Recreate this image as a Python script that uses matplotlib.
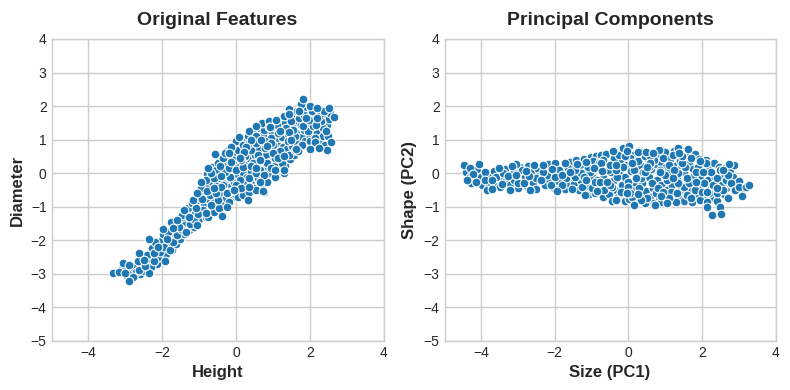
# abalone style scatter, original features vs principal components
import matplotlib
matplotlib.use("Agg")
import matplotlib.pyplot as plt

plt.style.use("seaborn-v0_8-whitegrid")
plt.rcParams['font.family'] = ['Liberation Sans', 'DejaVu Sans']

# (height, diameter) of the points mostly hidden under the others, left panel
original_hidden = [
    (-3.1, -2.85), (-2.95, -3.05), (-2.85, -2.9), (-2.72, -2.78), (-2.6, -3.0), (-2.5, -2.9), (-2.52, -2.45),
    (-2.42, -2.65), (-2.3, -2.55), (-2.28, -2.22), (-2.15, -2.7), (-2.14, -2.38), (-2.02, -2.5), (-2.03, -2.02),
    (-1.97, -1.82), (-1.9, -2.4), (-1.82, -2.12), (-1.78, -1.9), (-1.72, -2.3), (-1.68, -1.78), (-1.62, -2.1),
    (-1.58, -1.55), (-1.52, -1.95), (-1.46, -1.42), (-1.42, -1.8), (-1.38, -1.55), (-1.33, -1.2), (-1.27, -1.7),
    (-1.22, -1.02), (-1.2, -1.4), (-1.13, -1.6), (-1.1, -0.88), (-1.12, -1.2), (-1.0, -1.35), (-1.01, -0.68),
    (-0.98, -1.0), (-0.9, -0.35), (-0.88, -0.62), (-0.86, -0.9), (-0.82, -1.3), (-0.78, -0.02), (-0.75, -0.4),
    (-0.74, -0.8), (-0.7, -1.1), (-0.66, 0.2), (-0.64, -0.25), (-0.62, -0.55), (-0.6, -0.85), (-0.55, 0.1),
    (-0.52, -0.3), (-0.5, -0.6), (-0.48, -1.15), (-0.46, 0.42), (-0.42, -0.15), (-0.4, -0.62), (-0.37, -0.9),
    (-0.33, 0.3), (-0.3, -0.22), (-0.28, -0.75), (-0.22, 0.42), (-0.2, -0.1), (-0.18, -0.4), (-0.12, -0.72),
    (-0.1, 0.18), (-0.08, 0.62), (-0.04, -0.25), (-0.02, -0.62), (0.02, 0.85), (0.04, 0.28), (0.06, -0.05),
    (0.1, 0.55), (0.12, -0.45), (0.16, 0.95), (0.18, 0.02), (0.22, 0.32), (0.24, -0.55), (0.28, 0.68), (0.3, -0.12),
    (0.33, 1.1), (0.36, 0.45), (0.38, 0.18), (0.42, -0.32), (0.46, 0.85), (0.48, 1.28), (0.5, -0.45), (0.52, 0.55),
    (0.54, 0.2), (0.58, -0.1), (0.6, 1.0), (0.63, 0.72), (0.64, 1.35), (0.68, -0.4), (0.7, 0.38), (0.72, 0.12),
    (0.74, 1.15), (0.78, 1.42), (0.8, -0.2), (0.82, 0.55), (0.88, 0.9), (0.9, 0.02), (0.92, 0.32), (0.96, 1.25),
    (0.98, 1.55), (1.02, 0.7), (1.04, 0.22), (1.08, 1.02), (1.1, -0.02), (1.12, 1.32), (1.16, 0.8), (1.18, 1.58),
    (1.22, 0.38), (1.26, 1.08), (1.28, 0.78), (1.32, 1.5), (1.34, 0.22), (1.38, 0.72), (1.42, 1.18), (1.46, 0.42),
    (1.48, 1.68), (1.52, 0.8), (1.54, 1.42), (1.58, 0.55), (1.62, 1.75), (1.64, 1.2), (1.66, 0.9), (1.7, 1.52),
    (1.74, 0.78), (1.78, 1.08), (1.82, 1.88), (1.84, 1.3), (1.88, 0.95), (1.92, 1.7), (1.94, 1.42), (1.98, 0.85),
    (2.02, 1.12), (2.04, 1.95), (2.08, 1.6), (2.12, 1.28), (2.16, 0.85), (2.18, 1.78), (2.2, 1.2), (2.24, 1.48),
    (2.28, 0.95), (2.32, 1.88), (2.36, 1.12), (2.38, 1.68), (2.42, 0.85), (2.46, 1.45), (2.52, 1.62), (2.55, 1.78),
]

# (height, diameter)
original_points = [
    (-2.8, -2.8), (-2.7, -2.95), (-2.55, -2.7), (-2.4, -2.45), (-2.3, -2.8), (-2.1, -2.5), (-2.05, -2.35),
    (-1.95, -2.2), (-2.2, -2.05), (-1.8, -2.3), (-1.7, -2.05), (-1.85, -1.75), (-1.6, -1.85), (-1.5, -1.65),
    (-1.75, -1.45), (-1.55, -1.6), (-1.35, -1.75), (-1.25, -1.5), (-1.15, -1.35), (-1.45, -1.25), (-1.3, -1.05),
    (-1.2, -0.9), (-1.05, -0.8), (-0.9, -1.1), (-0.75, -1.3), (-0.6, -1.15), (-0.45, -1.05), (-0.5, -0.8),
    (-0.7, -0.65), (-0.95, -0.45), (-0.8, -0.2), (-0.6, -0.15), (-0.35, -0.35), (-0.2, -0.85), (0.05, -0.7),
    (0.2, -0.65), (0.35, -0.55), (0.55, -0.5), (0.75, -0.55), (0.3, -0.3), (0.1, -0.2), (-0.15, -0.1),
    (-0.3, 0.05), (-0.5, 0.3), (-0.35, 0.45), (-0.2, 0.15), (0.0, 0.1), (0.2, 0.2), (0.4, 0.05), (0.6, -0.15),
    (0.85, -0.25), (1.05, -0.1), (1.2, 0.1), (1.3, 0.0), (-0.1, 0.55), (0.05, 0.7), (0.25, 0.5), (0.45, 0.3),
    (0.65, 0.1), (0.85, 0.3), (1.05, 0.45), (1.25, 0.3), (1.45, 0.55), (1.6, 0.7), (0.0, 0.95), (0.2, 0.85),
    (0.4, 0.7), (0.6, 0.55), (0.8, 0.75), (1.0, 0.85), (1.2, 0.65), (1.4, 0.95), (1.6, 1.1), (1.8, 0.85),
    (2.0, 0.95), (0.35, 1.25), (0.55, 1.1), (0.75, 1.3), (0.95, 1.05), (1.15, 1.2), (1.35, 1.35), (1.55, 1.3),
    (1.75, 1.45), (1.95, 1.25), (2.15, 1.05), (2.35, 1.35), (2.5, 1.1), (0.7, 1.5), (0.9, 1.55), (1.1, 1.45),
    (1.3, 1.7), (1.5, 1.55), (1.7, 1.65), (1.9, 1.5), (2.1, 1.4), (2.3, 1.55), (2.45, 1.25), (1.45, 1.9),
    (1.65, 1.85), (1.85, 1.75), (2.05, 1.85), (2.25, 1.7), (2.4, 1.85), (1.75, 2.05), (2.0, 2.0), (2.2, 1.95),
    (-0.55, -0.6), (-0.4, -0.4), (-0.2, -0.55), (0.0, -0.35), (0.15, -0.45), (0.35, -0.15), (0.55, 0.0),
    (0.75, -0.05), (0.95, 0.15), (-0.25, 0.65), (-0.05, 0.4), (0.15, 0.4), (0.35, 0.9), (0.55, 0.9),
    (0.8, 0.95), (1.0, 0.6), (1.15, 0.45),
    (-3.32, -2.98), (-3.18, -2.93), (-3.07, -2.68), (-2.91, -2.73), (-3.0, -2.98), (-2.78, -3.10), (-2.91, -3.22),
    (-2.35, -2.96), (-2.62, -2.88), (-2.46, -2.76), (-2.66, -2.61), (-2.64, -2.38), (-2.23, -2.63), (-2.23, -2.38),
    (-2.48, -2.58), (-1.91, -2.61), (-2.12, -2.21), (-1.88, -1.95), (-2.36, -1.95), (-1.99, -1.66), (-1.71, -1.64),
    (-1.61, -1.39), (-1.28, -1.31), (-1.06, -1.54), (-1.40, -1.09), (-1.04, -1.22), (-0.68, -0.94), (-0.25, -1.01),
    (-0.38, -1.27), (-0.81, -1.19), (-1.08, -1.04), (-1.17, -0.79), (-0.92, -0.77), (-1.06, -0.58), (-0.79, -0.53),
    (-0.95, -0.25), (-0.59, -0.45), (-0.25, -0.58), (-0.05, -0.50), (-0.41, -0.08), (-0.68, 0.02), (-0.77, 0.17),
    (-0.43, 0.22), (-0.14, 0.33), (-0.29, 0.60), (-0.56, 0.58), (-0.14, 0.79), (0.09, 1.09), (0.41, 0.99),
    (0.27, 0.79), (0.68, 0.99), (0.95, 0.89), (0.54, 1.42), (0.90, 1.39), (1.43, 1.76), (1.72, 1.85), (1.83, 2.21),
    (2.51, 1.95), (2.65, 1.67), (2.48, 0.70), (2.57, 0.92), (2.14, 0.92), (1.67, 0.66), (1.29, 0.52),
    (1.31, 0.10), (1.07, 0.10), (0.72, -0.53), (0.32, -0.79), (0.36, -0.40), (0.65, -0.25), (0.41, 0.22),
    (0.65, 0.40), (0.23, 0.62), (0.92, 1.39), (1.08, 1.60), (1.44, 1.22), (1.81, 1.40), (1.97, 1.60), (2.18, 1.44),
    (2.21, 1.64), (1.89, 1.64), (1.62, 0.72), (0.55, 0.15), (0.12, 0.45), (-0.2, 0.60), (0.85, 0.80), (1.2, 1.25),
    (1.5, 1.0), (2.0, 0.72), (2.25, 0.75),
]

# (size, shape) of the points mostly hidden under the others, right panel
component_hidden = [
    (-4.42, 0.05), (-4.3, -0.12), (-4.28, -0.28), (-4.12, 0.12), (-4.0, -0.1), (-3.98, -0.34), (-3.8, 0.02),
    (-3.78, -0.35), (-3.65, 0.08), (-3.62, -0.3), (-3.5, -0.18), (-3.48, -0.42), (-3.35, 0.12), (-3.32, -0.22),
    (-3.22, -0.36), (-3.12, 0.05), (-3.1, -0.2), (-3.0, -0.45), (-2.95, 0.18), (-2.82, -0.12), (-2.75, -0.38),
    (-2.72, 0.22), (-2.62, 0.05), (-2.6, -0.3), (-2.52, -0.46), (-2.45, 0.12), (-2.42, -0.08), (-2.28, -0.35),
    (-2.25, 0.12), (-2.18, 0.28), (-2.15, -0.18), (-2.02, -0.45), (-2.0, 0.3), (-1.92, -0.22), (-1.88, -0.02),
    (-1.75, 0.12), (-1.72, -0.48), (-1.68, -0.28), (-1.6, 0.32), (-1.52, -0.12), (-1.48, -0.32), (-1.42, 0.4),
    (-1.35, -0.5), (-1.32, 0.22), (-1.28, -0.22), (-1.22, 0.42), (-1.18, 0.05), (-1.12, -0.42), (-1.08, -0.62),
    (-1.02, 0.48), (-0.98, -0.12), (-0.96, 0.15), (-0.9, -0.6), (-0.88, 0.5), (-0.82, -0.38), (-0.78, 0.12),
    (-0.75, 0.55), (-0.7, -0.12), (-0.68, -0.7), (-0.62, 0.58), (-0.6, -0.38), (-0.55, 0.28), (-0.52, -0.62),
    (-0.48, 0.05), (-0.45, -0.82), (-0.42, -0.22), (-0.38, 0.58), (-0.36, 0.32), (-0.3, -0.52), (-0.28, -0.72),
    (-0.26, 0.05), (-0.2, 0.38), (-0.18, -0.35), (-0.12, 0.62), (-0.1, -0.82), (-0.08, -0.12), (-0.05, 0.25),
    (0.0, 0.62), (0.02, -0.78), (0.06, 0.08), (0.08, -0.45), (0.12, 0.55), (0.14, -0.25), (0.2, 0.36), (0.22, -0.85),
    (0.26, -0.02), (0.28, 0.66), (0.32, -0.6), (0.34, 0.22), (0.38, -0.3), (0.42, 0.62), (0.44, -0.88), (0.48, -0.52),
    (0.52, 0.42), (0.56, -0.12), (0.58, -0.7), (0.62, 0.12), (0.64, 0.6), (0.68, -0.45), (0.7, -0.9), (0.74, 0.28),
    (0.78, -0.2), (0.8, 0.58), (0.82, -0.72), (0.88, 0.32), (0.9, -0.35), (0.92, 0.02), (0.98, -0.82), (1.0, 0.62),
    (1.02, 0.2), (1.06, -0.5), (1.08, -0.9), (1.12, 0.42), (1.14, 0.05), (1.18, -0.35), (1.22, -0.68), (1.24, 0.65),
    (1.28, 0.22), (1.32, -0.18), (1.36, -0.72), (1.4, 0.12), (1.42, -0.48), (1.46, 0.66), (1.5, -0.82), (1.52, 0.05),
    (1.58, 0.62), (1.62, -0.25), (1.66, 0.28), (1.7, -0.52), (1.72, -0.85), (1.76, 0.12), (1.8, 0.58), (1.82, -0.3),
    (1.88, -0.65), (1.92, 0.42), (1.96, -0.12), (2.0, 0.15), (2.02, -0.42), (2.08, -0.78), (2.12, 0.4), (2.16, -0.2),
    (2.2, 0.22), (2.24, -0.45), (2.28, -0.7), (2.32, 0.3), (2.36, -0.1), (2.42, -0.82), (2.46, 0.2), (2.52, -0.15),
    (2.6, -0.62), (2.62, 0.15), (2.66, -0.45), (2.72, -0.28), (2.76, 0.05), (2.84, -0.12), (2.86, -0.45), (2.94, -0.28),
    (3.02, -0.22), (3.1, -0.48),
]

# (size, shape)
component_points = [
    (-3.9, 0.05), (-3.6, -0.1), (-3.4, 0.0), (-3.0, -0.3), (-2.9, 0.1), (-2.85, -0.3), (-2.5, -0.15), (-2.2, -0.05),
    (-2.1, -0.35), (-1.9, 0.1), (-1.7, -0.15), (-1.65, 0.15), (-1.45, -0.1), (-1.3, 0.0), (-1.25, -0.4), (-1.05, 0.05),
    (-1.0, -0.45), (-0.95, 0.35), (-0.85, -0.2), (-0.7, 0.4), (-0.65, -0.5), (-0.6, 0.1), (-0.45, -0.4), (-0.4, 0.45),
    (-0.3, -0.1), (-0.25, 0.55), (-0.2, -0.6), (-0.15, 0.2), (0.0, -0.25), (0.05, 0.45), (0.1, -0.7), (0.15, 0.1),
    (0.25, 0.35), (0.3, -0.45), (0.35, -0.15), (0.45, 0.5), (0.5, -0.75), (0.55, 0.2), (0.65, -0.3), (0.7, 0.4),
    (0.75, -0.6), (0.85, 0.1), (0.9, -0.85), (0.95, 0.45), (1.05, -0.2), (1.1, 0.25), (1.15, -0.55), (1.2, 0.55),
    (1.3, -0.85), (1.35, 0.0), (1.4, 0.35), (1.5, -0.4), (1.55, 0.2), (1.6, -0.65), (1.7, 0.45), (1.75, -0.1),
    (1.8, -0.5), (1.9, 0.2), (1.95, -0.8), (2.05, -0.3), (2.1, 0.3), (2.2, -0.6), (2.25, 0.05), (2.3, -0.35),
    (2.4, -0.15), (2.5, 0.1), (2.55, -0.35), (2.65, -0.2), (2.7, -0.05), (2.8, -0.3), (2.9, -0.5), (3.0, -0.4),
    (-0.8, 0.3), (-0.55, 0.1), (-0.1, 0.5), (0.0, -0.4), (0.2, -0.15), (0.4, 0.05), (0.6, 0.5), (0.8, -0.45),
    (1.0, -0.05), (1.25, 0.1), (1.45, 0.3), (1.65, -0.3), (1.85, 0.05), (2.0, -0.55), (-1.2, -0.1), (-0.9, -0.25),
    (-0.5, -0.35), (-0.2, -0.55), (0.1, 0.3), (0.35, -0.8), (0.6, 0.3), (0.85, 0.05), (1.1, -0.75), (1.35, -0.3),
    (1.6, -0.15), (1.85, -0.25), (2.15, -0.55), (2.4, -0.6), (-1.45, 0.1), (-1.1, 0.2), (-0.75, 0.3), (-0.35, 0.1),
    (0.05, -0.6), (0.45, 0.05), (0.95, -0.55), (1.45, 0.5), (1.95, 0.35),
    (-4.46, 0.24), (-4.32, 0.16), (-4.05, 0.26), (-4.23, -0.01), (-4.39, -0.21), (-4.14, -0.26), (-3.89, -0.21),
    (-3.71, -0.21), (-3.85, -0.51), (-3.71, -0.46), (-3.53, 0.17), (-3.44, -0.31), (-3.26, -0.09), (-3.06, -0.06),
    (-3.05, 0.26), (-3.17, 0.21), (-3.21, -0.49), (-2.71, -0.09), (-2.78, 0.07), (-2.67, -0.49), (-2.58, 0.24),
    (-2.33, 0.04), (-2.38, -0.19), (-2.31, 0.24), (-2.08, 0.14), (-1.99, -0.11), (-1.81, -0.36), (-1.95, -0.53),
    (-1.81, -0.06), (-1.72, 0.29), (-1.58, 0.04), (-1.40, 0.26), (-1.54, -0.46), (-1.18, -0.66), (-1.15, -0.19),
    (-1.15, 0.32), (-0.93, 0.17), (-0.86, -0.54), (-0.72, 0.07), (-0.77, -0.26), (-0.57, -0.26), (-0.50, 0.24),
    (-0.43, 0.66), (-0.34, 0.24), (-0.34, -0.81), (-0.14, 0.74), (0.03, 0.82), (-0.05, 0.67), (0.25, 0.62),
    (0.47, 0.64), (0.84, 0.69), (0.68, 0.61), (1.34, 0.74), (1.38, 0.59), (1.63, 0.72), (0.16, -0.94), (-0.05, -0.59),
    (0.27, -0.63), (0.72, -0.96), (0.88, -0.69), (1.04, -0.88), (1.31, -0.58), (1.69, -0.73), (2.15, -0.86),
    (2.13, -1.0), (2.28, -1.25), (2.49, -1.0), (2.51, -1.23), (3.19, -0.41), (3.28, -0.36), (3.08, -0.69), (2.71, -0.74),
    (2.87, 0.24), (2.74, 0.26), (2.56, 0.09), (2.58, -0.49), (2.40, -0.43), (2.02, 0.04), (1.2, -0.15), (0.5, 0.2),
]

x_ticks = [-4, -2, 0, 2, 4]
y_ticks = [-5, -4, -3, -2, -1, 0, 1, 2, 3, 4]

fig = plt.figure(figsize=(7.9, 3.9), dpi=100)
ax1 = fig.add_axes([51.5 / 790, 1 - 341 / 390, 332 / 790, 302 / 390])
ax2 = fig.add_axes([444.5 / 790, 1 - 341 / 390, 331 / 790, 302 / 390])

panels = [
    (ax1, original_hidden + original_points, "Original Features", "Height", "Diameter"),
    (ax2, component_hidden + component_points, "Principal Components", "Size (PC1)", "Shape (PC2)"),
]
for ax, points, title, xlabel, ylabel in panels:
    xs, ys = zip(*points)
    ax.scatter(xs, ys, s=40, color="#1f77b4", edgecolor="white", linewidth=0.8, zorder=3)
    ax.set_xlim(-5, 4)
    ax.set_ylim(-5, 4)
    ax.set_xticks(x_ticks)
    ax.set_yticks(y_ticks)
    ax.tick_params(labelsize=10, labelcolor="#262626")
    ax.set_title(title, fontsize=14, fontweight="bold", color="#262626", pad=10)
    ax.set_xlabel(xlabel, fontsize=12, fontweight="bold", color="#262626", labelpad=4)
    ax.set_ylabel(ylabel, fontsize=12, fontweight="bold", color="#262626", labelpad=4.5)
    ax.grid(True, color="#cccccc", linewidth=1)
    for spine in ax.spines.values():
        spine.set_visible(True)
        spine.set_color("#cccccc")
        spine.set_linewidth(1)

fig.savefig("out.png", dpi=100)
